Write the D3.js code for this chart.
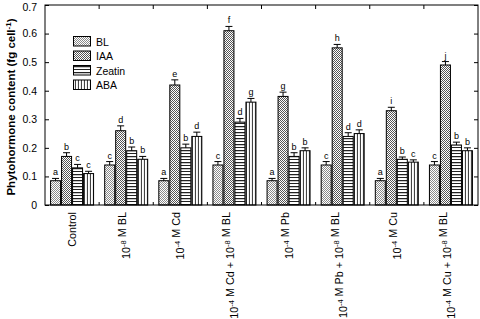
<!DOCTYPE html>
<html><head><meta charset="utf-8">
<script src="https://cdn.jsdelivr.net/npm/d3@7"></script>
<style>
body{margin:0;background:#fff;}
svg{display:block;font-family:"Liberation Sans",Arial,sans-serif;}
</style></head>
<body><svg id="c" width="480" height="319"></svg>
<script>
const categories = ["Control","BL","Cd","CdBL","Pb","PbBL","Cu","CuBL"];
const catLabels = [
  [["Control",false]],
  [["10",false],["-8",true],[" M BL",false]],
  [["10",false],["-4",true],[" M Cd",false]],
  [["10",false],["-4",true],[" M Cd + 10",false],["-8",true],[" M BL",false]],
  [["10",false],["-4",true],[" M Pb",false]],
  [["10",false],["-4",true],[" M Pb + 10",false],["-8",true],[" M BL",false]],
  [["10",false],["-4",true],[" M Cu",false]],
  [["10",false],["-4",true],[" M Cu + 10",false],["-8",true],[" M BL",false]]
];
const series = ["BL","IAA","Zeatin","ABA"];
const valBL     = [0.085,0.14,0.085,0.14,0.085,0.14,0.085,0.14];
const valIAA    = [0.17,0.26,0.42,0.61,0.38,0.55,0.33,0.49];
const valZeatin = [0.13,0.19,0.20,0.29,0.17,0.24,0.16,0.21];
const valABA    = [0.11,0.16,0.24,0.36,0.19,0.25,0.15,0.19];
const errBL     = [0.008,0.012,0.008,0.012,0.008,0.012,0.008,0.012];
const errIAA    = [0.013,0.017,0.018,0.015,0.015,0.012,0.012,0.012];
const errZeatin = [0.012,0.013,0.013,0.013,0.013,0.013,0.008,0.01];
const errABA    = [0.008,0.01,0.015,0.013,0.01,0.013,0.008,0.01];
const letBL     = ["a","c","a","c","a","c","a","c"];
const letIAA    = ["b","d","e","f","g","h","i","j"];
const letZeatin = ["c","b","b","d","b","d","b","b"];
const letABA    = ["c","b","d","g","b","d","c","b"];
const yTicks = [0,0.1,0.2,0.3,0.4,0.5,0.6,0.7];

const vals = {BL:valBL,IAA:valIAA,Zeatin:valZeatin,ABA:valABA};
const errs = {BL:errBL,IAA:errIAA,Zeatin:errZeatin,ABA:errABA};
const lets = {BL:letBL,IAA:letIAA,Zeatin:letZeatin,ABA:letABA};

const svg = d3.select("#c");
const L=45,R=478,T=5,B=205;
const x = d3.scaleBand().domain(categories).range([L,R]).padding(0);
const xs = d3.scaleBand().domain(series).range([0,x.bandwidth()]).paddingInner(0).paddingOuter(0.46);
const y = d3.scaleLinear().domain([0,0.7]).range([B,T]);

// patterns
const defs = svg.append("defs");
function checker(id, dark){
  const p = defs.append("pattern").attr("id",id).attr("patternUnits","userSpaceOnUse").attr("width",2).attr("height",2);
  p.append("rect").attr("width",2).attr("height",2).attr("fill","#fff");
  p.append("rect").attr("x",0).attr("y",0).attr("width",1).attr("height",1).attr("fill",dark);
  p.append("rect").attr("x",1).attr("y",1).attr("width",1).attr("height",1).attr("fill",dark);
}
checker("pBL","#8a8a8a");
checker("pIAA","#555");
{
  const p = defs.append("pattern").attr("id","pZeatin").attr("patternUnits","userSpaceOnUse").attr("width",4).attr("height",6);
  p.append("rect").attr("width",4).attr("height",6).attr("fill","#fff");
  p.append("rect").attr("y",0).attr("width",4).attr("height",1).attr("fill","#222");
  p.append("rect").attr("y",1).attr("width",4).attr("height",1).attr("fill","#c8c8c8");
  p.append("rect").attr("y",3).attr("width",4).attr("height",1).attr("fill","#222");
}
{
  const p = defs.append("pattern").attr("id","pABA").attr("patternUnits","userSpaceOnUse").attr("width",3).attr("height",4);
  p.append("rect").attr("width",3).attr("height",4).attr("fill","#fff");
  p.append("rect").attr("x",0).attr("width",1).attr("height",4).attr("fill","#444");
  p.append("rect").attr("x",2).attr("width",1).attr("height",4).attr("fill","#eee");
}
const fillOf = s => "url(#p"+s+")";

// bars
const g = svg.append("g");
categories.forEach((c,i)=>{
  series.forEach(s=>{
    const v = vals[s][i], e = errs[s][i];
    const bx = x(c)+xs(s), bw = xs.bandwidth();
    g.append("rect").attr("x",bx+0.5).attr("y",y(v)).attr("width",bw-1).attr("height",y(0)-y(v))
      .attr("fill",fillOf(s)).attr("stroke","#000").attr("stroke-width",1);
    const cx = bx+bw/2;
    g.append("line").attr("x1",cx).attr("x2",cx).attr("y1",y(v)).attr("y2",y(v+e)).attr("stroke","#000");
    g.append("line").attr("x1",cx-3.5).attr("x2",cx+3.5).attr("y1",y(v+e)).attr("y2",y(v+e)).attr("stroke","#000");
    g.append("text").attr("x",cx).attr("y",y(v+e)-3).attr("text-anchor","middle")
      .attr("font-size",9).attr("fill","#000").text(lets[s][i]);
  });
});

// frame
svg.append("rect").attr("x",L).attr("y",T).attr("width",R-L).attr("height",B-T)
  .attr("fill","none").attr("stroke","#000").attr("stroke-width",1);

// y axes
const ya = svg.append("g").attr("transform",`translate(${L},0)`)
  .call(d3.axisLeft(y).tickValues(yTicks).tickSize(-4).tickPadding(8)
    .tickFormat(d=>d===0?"0":d3.format(".1f")(d)));
ya.select(".domain").remove();
ya.selectAll("text").attr("font-size",10.5).attr("font-family","Liberation Sans, Arial, sans-serif");
ya.selectAll(".tick").filter(d=>d===0.7).select("text").attr("dy","0.5em");
const yr = svg.append("g").attr("transform",`translate(${R},0)`)
  .call(d3.axisRight(y).tickValues(yTicks).tickSize(-4).tickFormat(""));
yr.select(".domain").remove();

// boundary ticks top & bottom
const bounds = categories.slice(1).map(c=>x(c));
svg.append("g").selectAll("line.t").data(bounds).join("line")
  .attr("x1",d=>d).attr("x2",d=>d).attr("y1",T).attr("y2",T+4).attr("stroke","#000");
svg.append("g").selectAll("line.b").data(bounds).join("line")
  .attr("x1",d=>d).attr("x2",d=>d).attr("y1",B).attr("y2",B-3).attr("stroke","#000");

// x labels
categories.forEach((c,i)=>{
  const cx = x(c)+x.bandwidth()/2;
  const t = svg.append("text").attr("transform",`translate(${cx+4},${B+7}) rotate(-90)`)
    .attr("text-anchor","end").attr("font-size",10.8).attr("fill","#000");
  catLabels[i].forEach(([txt,sup])=>{
    if(sup){
      t.append("tspan").attr("font-size",7.5).attr("dy",-4).text(txt);
      t.append("tspan").attr("dy",4).text("");
    } else t.append("tspan").text(txt);
  });
});

// y label
const yl = svg.append("text").attr("transform",`translate(15,${(T+B)/2+2}) rotate(-90)`)
  .attr("text-anchor","middle").attr("font-size",11.5).attr("font-weight","bold").attr("fill","#000");
yl.append("tspan").text("Phytohormone content (fg cell");
yl.append("tspan").attr("font-size",8).attr("dy",-4).text("-1");
yl.append("tspan").attr("dy",4).text(")");

// legend
const lg = svg.append("g");
series.forEach((s,i)=>{
  const ly = 36 + i*14.5;
  lg.append("rect").attr("x",73.5).attr("y",ly+0.5).attr("width",17).attr("height",9.5)
    .attr("fill",fillOf(s)).attr("stroke","#000").attr("stroke-width",1);
  lg.append("text").attr("x",96).attr("y",ly+9.5).attr("font-size",10.5).attr("fill","#000").text(s);
});
</script></body></html>
